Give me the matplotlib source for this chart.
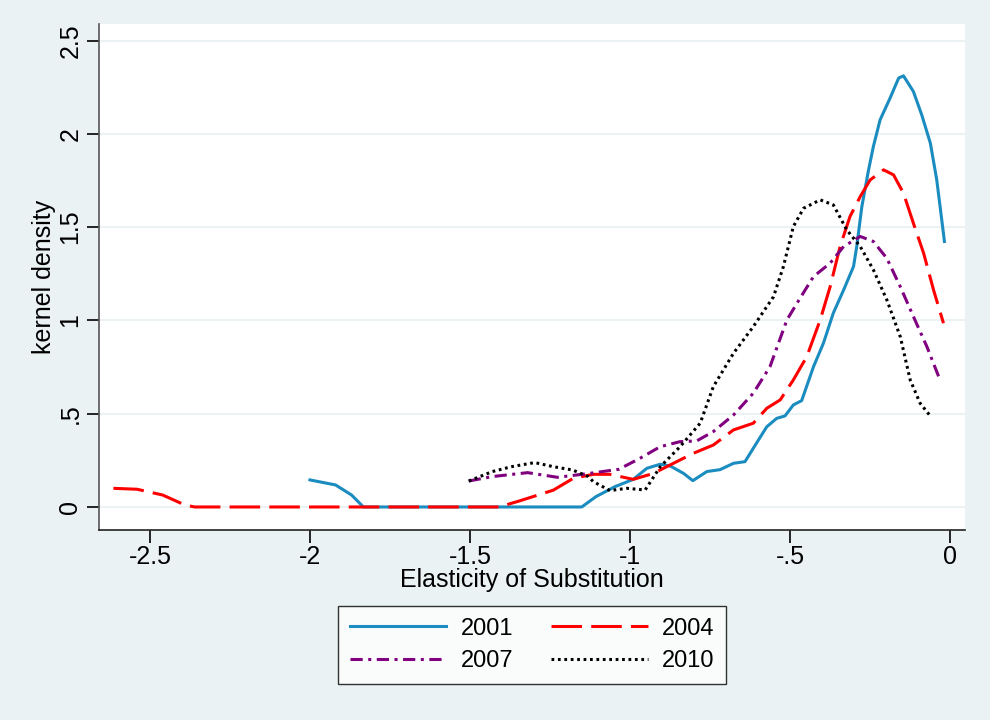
import matplotlib
matplotlib.use("Agg")
import matplotlib.pyplot as plt
import numpy as np

plt.rcParams['font.family'] = ['Liberation Sans', 'DejaVu Sans']

BG = '#eaf2f3'

# kernel density estimates
x2001 = [-2.0, -1.92, -1.87, -1.833, -1.151, -1.107, -1.047, -0.99, -0.948, -0.906, -0.875,
         -0.833, -0.804, -0.76, -0.719, -0.677, -0.641, -0.615, -0.573, -0.542, -0.516, -0.49,
         -0.464, -0.427, -0.396, -0.365, -0.333, -0.302, -0.292, -0.276, -0.255, -0.24, -0.219,
         -0.188, -0.161, -0.146, -0.115, -0.089, -0.062, -0.042, -0.018]
y2001 = [0.145, 0.118, 0.064, 0.0, 0.0, 0.055, 0.109, 0.148, 0.207, 0.229, 0.22,
         0.18, 0.141, 0.19, 0.2, 0.234, 0.243, 0.315, 0.43, 0.475, 0.488, 0.547,
         0.57, 0.752, 0.878, 1.04, 1.163, 1.289, 1.396, 1.61, 1.807, 1.932, 2.075,
         2.191, 2.299, 2.311, 2.227, 2.102, 1.95, 1.753, 1.423]

x2004 = [-2.614, -2.54, -2.46, -2.39, -2.36, -1.41, -1.35, -1.24, -1.177, -1.115, -1.063,
         -0.99, -0.927, -0.875, -0.802, -0.74, -0.677, -0.615, -0.573, -0.531, -0.49, -0.448,
         -0.406, -0.375, -0.344, -0.313, -0.281, -0.25, -0.208, -0.177, -0.146, -0.115,
         -0.083, -0.052, -0.021]
y2004 = [0.10, 0.095, 0.064, 0.01, 0.0, 0.0, 0.03, 0.09, 0.154, 0.175, 0.175,
         0.148, 0.18, 0.225, 0.288, 0.332, 0.413, 0.449, 0.529, 0.574, 0.681, 0.806,
         1.003, 1.181, 1.396, 1.557, 1.664, 1.753, 1.807, 1.78, 1.682, 1.521,
         1.36, 1.163, 0.985]

x2007 = [-1.504, -1.43, -1.32, -1.227, -1.14, -1.035, -0.969, -0.906, -0.844, -0.792, -0.74,
         -0.677, -0.615, -0.563, -0.51, -0.469, -0.427, -0.375, -0.333, -0.281, -0.24, -0.198,
         -0.156, -0.115, -0.073, -0.036]
y2007 = [0.139, 0.163, 0.184, 0.159, 0.177, 0.202, 0.261, 0.323, 0.35, 0.354, 0.404,
         0.493, 0.61, 0.752, 1.003, 1.119, 1.235, 1.307, 1.396, 1.45, 1.423, 1.333,
         1.181, 1.021, 0.86, 0.699]

x2010 = [-1.504, -1.43, -1.37, -1.298, -1.24, -1.179, -1.131, -1.115, -1.063, -1.01, -0.953,
         -0.906, -0.844, -0.781, -0.74, -0.677, -0.615, -0.552, -0.521, -0.49, -0.458, -0.406,
         -0.365, -0.323, -0.281, -0.24, -0.198, -0.156, -0.125, -0.094, -0.059]
y2010 = [0.139, 0.19, 0.216, 0.238, 0.216, 0.198, 0.163, 0.136, 0.088, 0.1, 0.091,
         0.215, 0.323, 0.449, 0.645, 0.824, 0.967, 1.127, 1.289, 1.503, 1.601, 1.646,
         1.619, 1.485, 1.396, 1.271, 1.11, 0.913, 0.681, 0.556, 0.481]

xticks = [-2.5, -2, -1.5, -1, -0.5, 0]
xtick_labels = ['-2.5', '-2', '-1.5', '-1', '-.5', '0']
yticks = [0, 0.5, 1, 1.5, 2, 2.5]
ytick_labels = ['0', '.5', '1', '1.5', '2', '2.5']

fig = plt.figure(figsize=(9.9, 7.2), dpi=100, facecolor=BG)
ax = fig.add_axes([0.1, 0.264, 0.875, 0.703])
ax.set_facecolor('white')

lw = 2.2
l1, = ax.plot(x2001, y2001, color='#1a8cc0', lw=lw, label='2001')
l2, = ax.plot(x2004, y2004, color='#ff0000', lw=lw, dashes=(10, 3), label='2004')
l3, = ax.plot(x2007, y2007, color='#800080', lw=lw, dashes=(4, 1.8, 1, 1.8), label='2007')
l4, = ax.plot(x2010, y2010, color='black', lw=lw, dashes=(0.9, 1.2), label='2010')

ax.set_xlim(-2.659, 0.047)
ax.set_ylim(-0.123, 2.59)
ax.set_xticks(xticks)
ax.set_xticklabels(xtick_labels)
ax.set_yticks(yticks)
ax.set_yticklabels(ytick_labels, rotation=90, va='center')
ax.grid(axis='y', color=BG, lw=1.5)
ax.set_axisbelow(True)
for s in ['top', 'right']:
    ax.spines[s].set_visible(False)
ax.spines['left'].set_color('#555555')
ax.spines['bottom'].set_color('#222222')
for s in ['left', 'bottom']:
    ax.spines[s].set_linewidth(1.2)
ax.tick_params(length=9, width=1.2, labelsize=18, direction='out')
ax.tick_params(axis='y', pad=3)
ax.tick_params(axis='x', pad=2)
ax.set_xlabel('Elasticity of Substitution', fontsize=18, labelpad=-1)
ax.set_ylabel('kernel density', fontsize=18, labelpad=2)

# row-wise order like the original: 2001 2004 / 2007 2010
leg = fig.legend([l1, l3, l2, l4], ['2001', '2007', '2004', '2010'],
                 loc='center', bbox_to_anchor=(532 / 990, 1 - 645 / 720), ncol=2,
                 fontsize=17, frameon=True, fancybox=False, edgecolor='black',
                 handlelength=4.1, columnspacing=1.6, handletextpad=0.6,
                 borderpad=0.5, labelspacing=0.45)
leg.get_frame().set_linewidth(1.0)

fig.savefig('out.png', dpi=100, facecolor=BG)
